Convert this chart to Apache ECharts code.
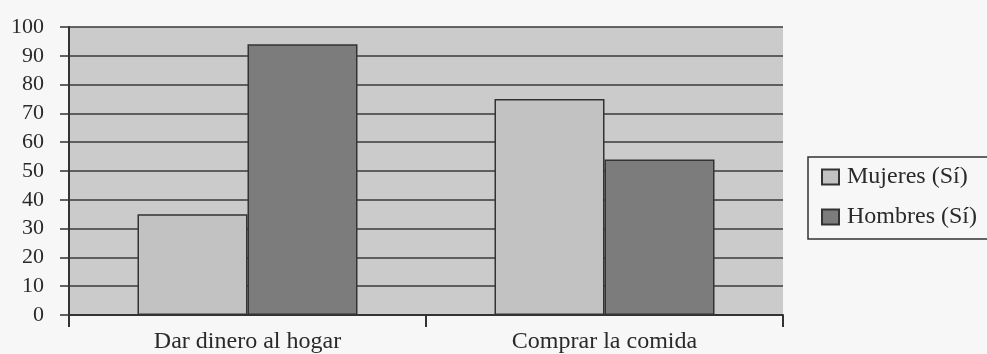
<!DOCTYPE html>
<html>
<head>
<meta charset="utf-8">
<script src="https://cdn.jsdelivr.net/npm/echarts@6/dist/echarts.min.js"></script>
<style>
  html, body { margin: 0; padding: 0; background: #f7f7f7; }
  #chart { width: 987px; height: 354px; }
</style>
</head>
<body>
<div id="chart"></div>
<script>
var categories = ['Dar dinero al hogar', 'Comprar la comida'];
var mujeres = [35, 75];
var hombres = [94, 54];
var yTicks = { min: 0, max: 100, interval: 10 };

var serif = '"Liberation Serif", "DejaVu Serif", serif';
var ink = '#2a2a2a';

var chart = echarts.init(document.getElementById('chart'));
chart.setOption({
  animation: false,
  textStyle: { fontFamily: serif, color: ink },
  grid: {
    left: 69,
    right: 204,
    top: 27,
    bottom: 39,
    show: true,
    backgroundColor: '#cbcbcb',
    borderWidth: 0
  },
  legend: {
    orient: 'vertical',
    left: 808,
    top: 157,
    icon: 'rect',
    itemWidth: 17,
    itemHeight: 15,
    itemGap: 16,
    padding: [8, 20, 10, 13],
    borderColor: '#333',
    borderWidth: 1.5,
    backgroundColor: '#f7f7f7',
    textStyle: { fontFamily: serif, fontSize: 24, color: ink, padding: [0, 0, 0, 3] },
    data: ['Mujeres (Sí)', 'Hombres (Sí)']
  },
  xAxis: {
    type: 'category',
    data: categories,
    axisLine: { lineStyle: { color: '#333', width: 2 } },
    axisTick: { show: true, length: 12, lineStyle: { color: '#333', width: 2 } },
    axisLabel: { fontFamily: serif, fontSize: 24, color: ink, margin: 15 }
  },
  yAxis: {
    type: 'value',
    min: yTicks.min,
    max: yTicks.max,
    interval: yTicks.interval,
    axisLine: { show: true, lineStyle: { color: '#333', width: 2 } },
    axisTick: { show: true, length: 9, lineStyle: { color: '#333', width: 1.5 } },
    axisLabel: { fontFamily: serif, fontSize: 22, color: ink, margin: 25 },
    splitLine: { lineStyle: { color: '#3a3a3a', width: 1.5 } }
  },
  series: [
    {
      name: 'Mujeres (Sí)',
      type: 'bar',
      barWidth: 110,
      barGap: '0%',
      data: mujeres,
      itemStyle: { color: '#c2c2c2', borderColor: '#333', borderWidth: 1.5 }
    },
    {
      name: 'Hombres (Sí)',
      type: 'bar',
      barWidth: 110,
      barGap: '0%',
      data: hombres,
      itemStyle: { color: '#7c7c7c', borderColor: '#333', borderWidth: 1.5 }
    }
  ]
});
</script>
</body>
</html>
